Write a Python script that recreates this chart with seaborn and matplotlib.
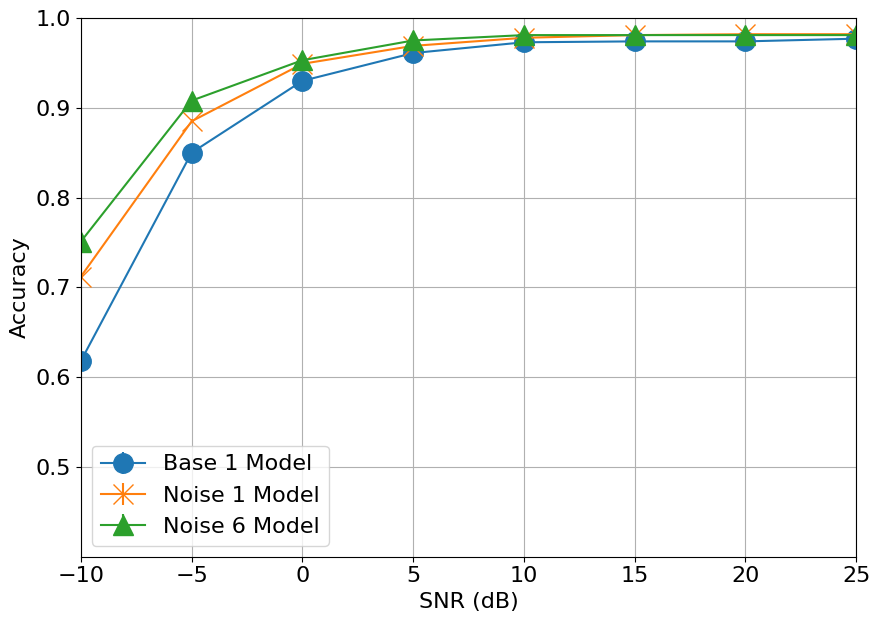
import matplotlib
matplotlib.use('Agg')
import matplotlib.pyplot as plt
import seaborn as sns
import numpy as np

snr = [-10, -5, 0, 5, 10, 15, 20, 25]
base1 = [0.618, 0.850, 0.930, 0.961, 0.973, 0.974, 0.974, 0.977]
noise1 = [0.712, 0.885, 0.949, 0.969, 0.978, 0.981, 0.982, 0.982]
noise6 = [0.751, 0.908, 0.953, 0.975, 0.981, 0.981, 0.981, 0.981]
err = [0.002] * len(snr)

# keep matplotlib's classic look (black text, grey grid), seaborn palette
plt.rcParams['font.family'] = ['DejaVu Sans']
plt.rcParams['font.size'] = 16

colors = sns.color_palette('tab10')

fig, ax = plt.subplots(figsize=(8.79, 6.22), dpi=100)
ax.errorbar(snr, base1, yerr=err, marker='o', markersize=14, color=colors[0], label='Base 1 Model')
ax.errorbar(snr, noise1, yerr=err, marker='x', markersize=14, color=colors[1], label='Noise 1 Model')
ax.errorbar(snr, noise6, yerr=err, marker='^', markersize=14, color=colors[2], label='Noise 6 Model')

ax.set_xlim(-10, 25)
ax.set_ylim(0.4, 1.0)
ax.set_yticks([0.5, 0.6, 0.7, 0.8, 0.9, 1.0])
ax.set_xlabel('SNR (dB)')
ax.set_ylabel('Accuracy')
ax.grid(True)
ax.legend(loc='lower left')
ax.tick_params(labelsize=16)

plt.subplots_adjust(left=0.092, right=0.974, top=0.971, bottom=0.105)
plt.savefig('out.png')
